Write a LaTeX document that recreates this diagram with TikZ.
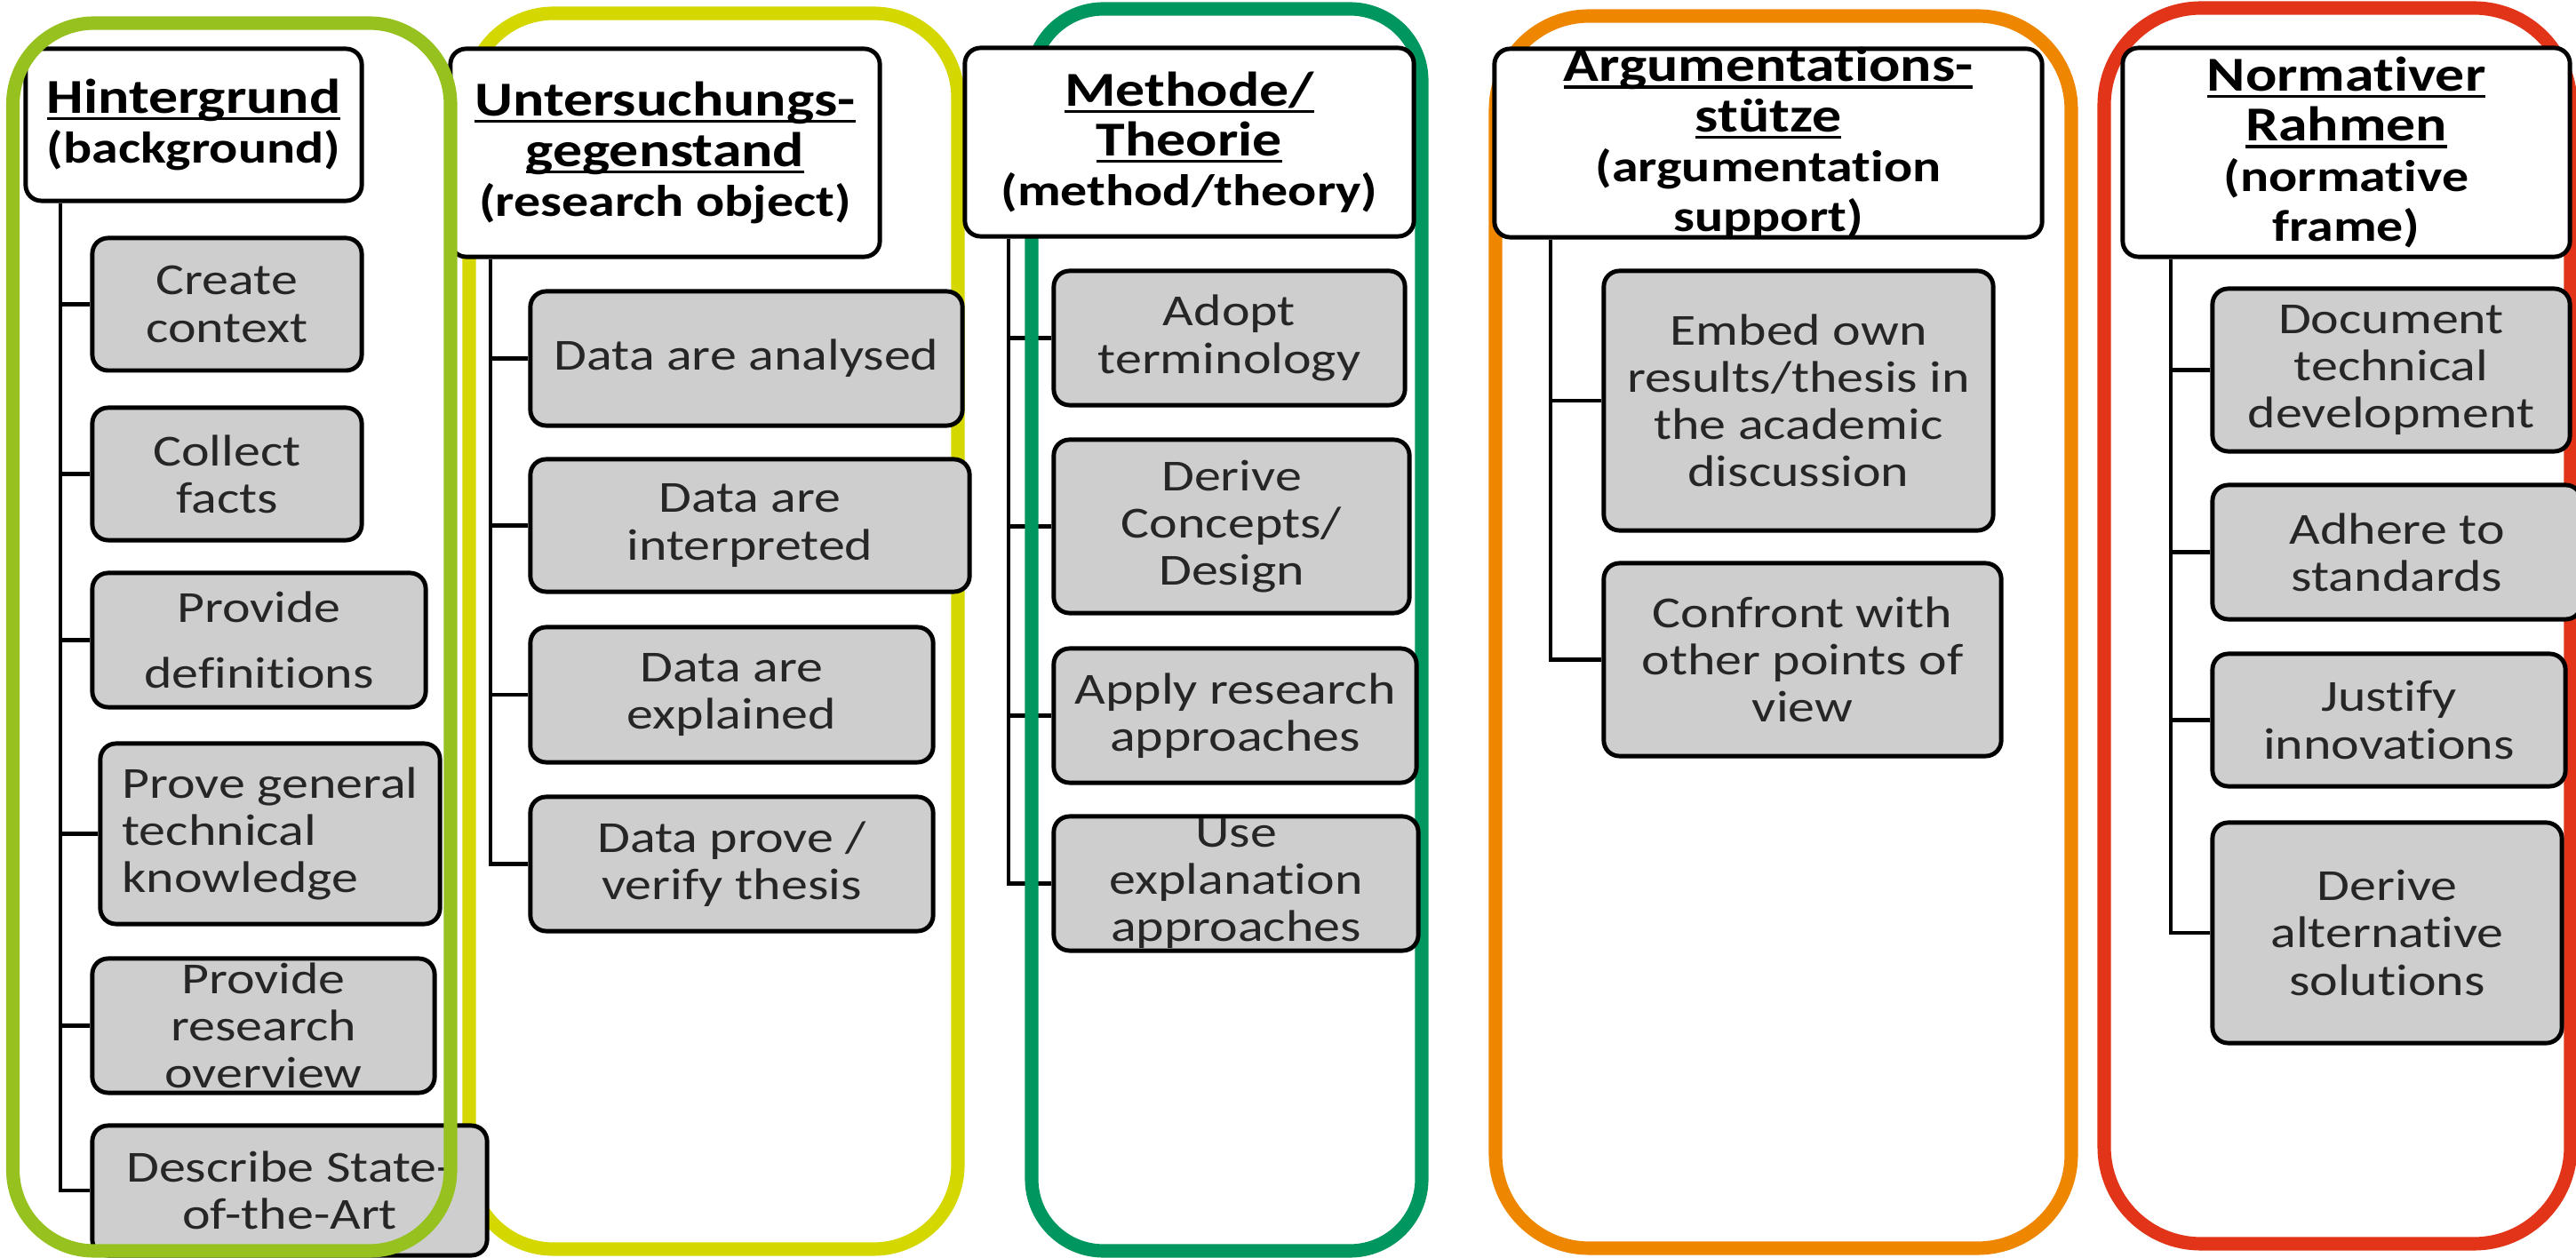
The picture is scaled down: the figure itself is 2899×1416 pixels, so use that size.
\documentclass[tikz,border=0pt]{standalone}
\usepackage{fontspec}
\setmainfont{Carlito}[FakeStretch=1.2, Ligatures=NoCommon]
\definecolor{cgreen}{RGB}{150,193,31}
\definecolor{cyellow}{RGB}{212,216,0}
\definecolor{cteal}{RGB}{0,150,95}
\definecolor{corange}{RGB}{238,134,0}
\definecolor{cred}{RGB}{225,52,25}
\definecolor{cgray}{RGB}{206,206,206}
\definecolor{ctext}{RGB}{38,38,38}
\pgfdeclarelayer{paper}\pgfdeclarelayer{bg}\pgfdeclarelayer{mid}\pgfdeclarelayer{fg}
\pgfsetlayers{paper,bg,mid,main,fg}
\newcommand\ulx[1]{\setbox0\hbox{#1}\rlap{\rule[-2.2pt]{\wd0}{0.9pt}}\box0}
\newcommand\ttl[1]{{\fontsize{15.6}{16}\selectfont\ulx{#1}}}
% #1 box style, #2 text style, #3 name, #4 x1, #5 y1, #6 x2, #7 y2, #8 text
\newcommand\bx[8]{%
  \node[#1, minimum width={(#6-#4)*0.284528pt}, minimum height={(#7-#5)*0.284528pt}] (#3) at ({(#4+#6)/2},{(#5+#7)/2}) {};
  \node[#2] (#3t) at (#3.center) {#8};
}
\tikzset{
  hbox/.style={draw=black, line width=1.4pt, fill=white, rounded corners=5pt, inner sep=0pt},
  gbox/.style={draw=black, line width=1.4pt, fill=cgray, rounded corners=5pt, inner sep=0pt},
  htext/.style={inner sep=0pt, align=center, text=black, font=\fontsize{14.2}{16}\selectfont\bfseries},
  gtext/.style={inner sep=0pt, align=center, text=ctext, font=\fontsize{14.2}{15.1}\selectfont},
  conn/.style={draw=black, line width=1.4pt},
  cont/.style={line width=4.3pt, rounded corners=#1},
}
\begin{document}
\begin{tikzpicture}[x=0.01cm,y=-0.01cm]
\begin{pgfonlayer}{paper}
\fill[white] (0,0) rectangle (2899,1416);
\end{pgfonlayer}
\useasboundingbox (0,0) rectangle (2899,1416);

% trunk coordinates
\coordinate (t1) at (68,0);
\coordinate (t2) at (552,0);
\coordinate (t3) at (1135,0);
\coordinate (t4) at (1745,0);
\coordinate (t5) at (2443,0);

% column 1
\bx{hbox}{htext}{h1}{29}{55}{407}{226}{\ttl{Hintergrund}\\(background)}
\bx{gbox}{gtext}{b11}{104}{268}{407}{417}{Create\\context}
\bx{gbox}{gtext}{b12}{104}{459}{407}{608}{Collect\\facts}
\bx{gbox}{gtext}{b13}{104}{645}{479}{796}{Provide\\[6pt]definitions}
\bx{gbox}{gtext,align=left}{b14}{113}{837}{495}{1040}{Prove general\\technical\\knowledge}
\bx{gbox}{gtext}{b15}{104}{1079}{489}{1230}{Provide\\research\\overview}
\bx{gbox}{gtext}{b16}{104}{1267}{548}{1413}{Describe State-\\of-the-Art}

% column 2
\bx{hbox}{htext}{h2}{507}{55}{990}{289}{\ttl{Untersuchungs-}\\\ttl{gegenstand}\\(research object)}
\bx{gbox}{gtext}{b21}{597}{328}{1083}{479}{Data are analysed}
\bx{gbox}{gtext}{b22}{597}{517}{1091}{666}{Data are\\interpreted}
\bx{gbox}{gtext}{b23}{597}{706}{1050}{858}{Data are\\explained}
\bx{gbox}{gtext}{b24}{597}{897}{1050}{1048}{Data prove /\\verify thesis}

% column 3
\bx{hbox}{htext}{h3}{1086}{54}{1591}{266}{\ttl{Methode/}\\\ttl{Theorie}\\(method/theory)}
\bx{gbox}{gtext}{b31}{1186}{305}{1581}{456}{Adopt\\terminology}
\bx{gbox}{gtext}{b32}{1186}{495}{1586}{690}{Derive\\Concepts/\\Design}
\bx{gbox}{gtext}{b33}{1186}{730}{1594}{881}{Apply research\\approaches}
\bx{gbox}{gtext}{b34}{1186}{919}{1596}{1070}{Use\\explanation\\approaches}

% column 4
\bx{hbox}{htext}{h4}{1682}{55}{2298}{267}{\ttl{Argumentations-}\\\ttl{stütze}\\(argumentation\\support)}
\bx{gbox}{gtext}{b41}{1805}{305}{2243}{597}{Embed own\\results/thesis in\\the academic\\discussion}
\bx{gbox}{gtext}{b42}{1805}{634}{2252}{851}{Confront with\\other points of\\view}

% column 5
\bx{hbox}{htext}{h5}{2389}{54}{2892}{289}{\ttl{Normativer}\\\ttl{Rahmen}\\(normative\\frame)}
\bx{gbox}{gtext}{b51}{2490}{325}{2892}{508}{Document\\technical\\development}
\bx{gbox}{gtext}{b52}{2490}{546}{2905}{697}{Adhere to\\standards}
\bx{gbox}{gtext}{b53}{2490}{736}{2887}{885}{Justify\\innovations}
\bx{gbox}{gtext}{b54}{2490}{926}{2883}{1174}{Derive\\alternative\\solutions}

% connectors
\begin{pgfonlayer}{bg}
\foreach \b in {b11,b12,b13,b14,b15,b16} \draw[conn] (h1.south -| t1) |- (\b.west);
\foreach \b in {b21,b22,b23,b24} \draw[conn] (h2.south -| t2) |- (\b.west);
\foreach \b in {b31,b32,b33,b34} \draw[conn] (h3.south -| t3) |- (\b.west);
\foreach \b in {b41,b42} \draw[conn] (h4.south -| t4) |- (\b.west);
\foreach \b in {b51,b52,b53,b54} \draw[conn] (h5.south -| t5) |- (\b.west);
\end{pgfonlayer}

% containers
\begin{pgfonlayer}{mid}
\draw[cont=27pt, cyellow] (528,15) rectangle (1078,1406);
\draw[cont=23pt, cteal] (1161,10) rectangle (1600,1408);
\draw[cont=30pt, corange] (1683,18) rectangle (2331,1405);
\draw[cont=31pt, cred] (2368,9) rectangle (2893,1400);
\end{pgfonlayer}
\begin{pgfonlayer}{fg}
\draw[cont=26pt, cgreen] (14.5,26) rectangle (507,1408);
\end{pgfonlayer}
\end{tikzpicture}
\end{document}
